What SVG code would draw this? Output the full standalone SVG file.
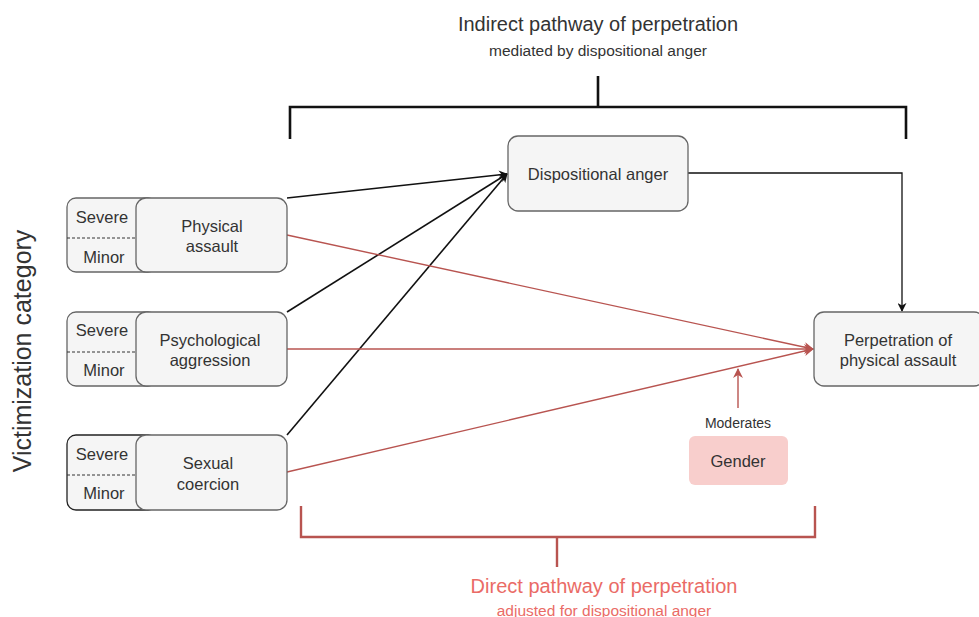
<svg xmlns="http://www.w3.org/2000/svg" width="979" height="617" viewBox="0 0 979 617">
<style>
text{font-family:"Liberation Sans",Arial,sans-serif;fill:#333}
.box{fill:#f5f5f5;stroke:#666;stroke-width:1.3}
.t{font-size:16.5px;text-anchor:middle}
.s{font-size:16.5px;text-anchor:middle}
.blk{stroke:#111;stroke-width:1.6;fill:none}
.red{stroke:#b85450;stroke-width:1.4;fill:none}
.dash{stroke:#333;stroke-width:1;stroke-dasharray:3 2}
</style>
<defs>
<marker id="ab" viewBox="0 0 10 10" refX="9" refY="5" markerWidth="9" markerHeight="9" orient="auto" markerUnits="userSpaceOnUse"><path d="M0,0 L10,5 L0,10 L3,5 Z" fill="#111"/></marker>
<marker id="ar" viewBox="0 0 10 10" refX="9" refY="5" markerWidth="10" markerHeight="10" orient="auto" markerUnits="userSpaceOnUse"><path d="M0,0 L10,5 L0,10 L3,5 Z" fill="#b85450"/></marker>
</defs>
<g id="titles">
<text x="598" y="31" font-size="20" text-anchor="middle">Indirect pathway of perpetration</text>
<text x="598" y="56" font-size="15.5" text-anchor="middle">mediated by dispositional anger</text>
<text x="604" y="593" font-size="20" text-anchor="middle" style="fill:#ea6b66">Direct pathway of perpetration</text>
<text x="604" y="616" font-size="15.5" text-anchor="middle" style="fill:#ea6b66">adjusted for dispositional anger</text>
<text transform="translate(31,351) rotate(-90)" font-size="25" text-anchor="middle">Victimization category</text>
</g>
<g id="brackets">
<path d="M290,139 V107 H906 V139 M598,107 V76" stroke="#111" stroke-width="2.6" fill="none"/>
<path d="M301,506 V537 H815 V506 M557,537 V567" stroke="#b85450" stroke-width="2.4" fill="none"/>
</g>
<g id="connectors">
<line class="blk" x1="287" y1="198" x2="507" y2="174" marker-end="url(#ab)"/>
<line class="blk" x1="287" y1="312" x2="507" y2="174" marker-end="url(#ab)"/>
<line class="blk" x1="287" y1="435" x2="507" y2="174" marker-end="url(#ab)"/>
<path class="blk" d="M688,173 H902 V311" marker-end="url(#ab)" style="stroke-width:1.3"/>
<line class="red" x1="287" y1="235" x2="813" y2="349" marker-end="url(#ar)"/>
<line class="red" x1="287" y1="349" x2="813" y2="349" marker-end="url(#ar)"/>
<line class="red" x1="287" y1="472" x2="813" y2="349" marker-end="url(#ar)"/>
<line class="red" x1="738" y1="408" x2="738" y2="369" marker-end="url(#ar)"/>
</g>
<g id="physical">
<rect class="box" x="67" y="198" width="90" height="74" rx="9"/>
<line class="dash" x1="67" y1="238" x2="138" y2="238"/>
<text class="s" x="102" y="223">Severe</text>
<text class="s" x="104" y="263">Minor</text>
<rect class="box" x="136" y="198" width="151" height="74" rx="10"/>
<text class="t" x="212" y="232">Physical</text>
<text class="t" x="212" y="252">assault</text>
</g>
<g id="psychological">
<rect class="box" x="67" y="312" width="90" height="74" rx="9"/>
<line class="dash" x1="67" y1="352" x2="138" y2="352"/>
<text class="s" x="102" y="336">Severe</text>
<text class="s" x="104" y="376">Minor</text>
<rect class="box" x="136" y="312" width="151" height="74" rx="10"/>
<text class="t" x="210" y="346">Psychological</text>
<text class="t" x="210" y="366">aggression</text>
</g>
<g id="sexual">
<rect class="box" x="67" y="435" width="90" height="75" rx="9" style="stroke:#222"/>
<line class="dash" x1="67" y1="475" x2="138" y2="475"/>
<text class="s" x="102" y="460">Severe</text>
<text class="s" x="104" y="499">Minor</text>
<rect class="box" x="136" y="435" width="151" height="75" rx="10"/>
<text class="t" x="208" y="469">Sexual</text>
<text class="t" x="208" y="490">coercion</text>
</g>
<g id="anger">
<rect class="box" x="508" y="136" width="180" height="75" rx="10"/>
<text class="t" x="598" y="180">Dispositional anger</text>
</g>
<g id="outcome">
<rect class="box" x="814" y="312" width="170" height="74" rx="10"/>
<text class="t" x="898" y="346">Perpetration of</text>
<text class="t" x="898" y="366">physical assault</text>
</g>
<g id="gender">
<text x="738" y="428" font-size="14" text-anchor="middle">Moderates</text>
<rect x="689" y="436" width="99" height="49" rx="6" fill="#f8cecc"/>
<text class="t" x="738" y="467">Gender</text>
</g>
</svg>
